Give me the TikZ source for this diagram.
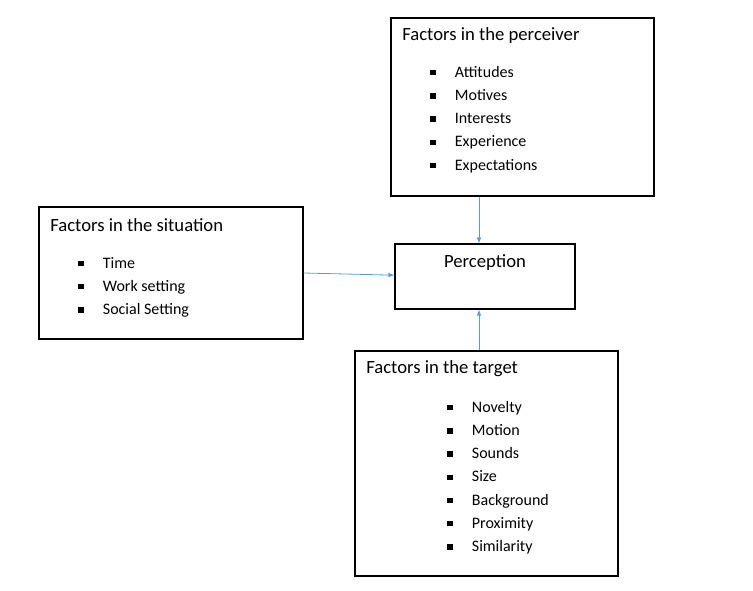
\documentclass[tikz,border=0pt]{standalone}
\usepackage{fontspec}
\setmainfont{Carlito}
\usetikzlibrary{positioning}
\tikzset{
  factorBox/.style = {draw, thick, inner sep = 0pt},
  headText/.style = {anchor = west, inner sep = 0pt, font = \fontsize{14}{16}\selectfont},
  listText/.style = {anchor = north west, inner sep = 0pt, align = left,
    font = \fontsize{12}{17.4}\selectfont},
  feedArrow/.style = {draw = arrowBlue, line width = 0.6pt, -latex}
}
\definecolor{arrowBlue}{HTML}{5B9BD5}
\newcommand{\bul}{\rule[1.5pt]{4pt}{4pt}\hspace{14.5pt}}
\begin{document}
\begin{tikzpicture}[x = 0.75pt, y = -0.75pt]
\useasboundingbox (0,0) rectangle (753,590);
% boxes
\node[factorBox, minimum width = 197.25pt, minimum height = 133.5pt] (perceiver) at (522.5,107) {};
\node[factorBox, minimum width = 198pt, minimum height = 99pt] (situation) at (171,273) {};
\node[factorBox, minimum width = 135pt, minimum height = 48.75pt] (perception) at (485,276.5) {};
\node[factorBox, minimum width = 197.25pt, minimum height = 168.75pt] (target) at (486.5,463.5) {};
% texts
\node[headText] (perceiverHead) at (402,36) {Factors in the perceiver};
\node[listText] (perceiverList) at (430,66) {\bul Attitudes\\ \bul Motives\\ \bul Interests\\ \bul Experience\\ \bul Expectations};
\node[headText] (situationHead) at (50,225) {Factors in the situation};
\node[listText] (situationList) at (78,257) {\bul Time\\ \bul Work setting\\ \bul Social Setting};
\node[headText, anchor = center] (perceptionHead) at (485,263) {Perception};
\node[headText] (targetHead) at (366,369) {Factors in the target};
\node[listText] (targetList) at (447,401) {\bul Novelty\\ \bul Motion\\ \bul Sounds\\ \bul Size\\ \bul Background\\ \bul Proximity\\ \bul Similarity};
% arrows
\draw[feedArrow] (perceiver.south -| perception.north) ++(-6,0) -- ([xshift = -4.5pt]perception.north);
\draw[feedArrow] (situation.east) -- ([yshift = 1pt]perception.west);
\draw[feedArrow] ([xshift = -4.5pt]target.north -| perception.south) -- ([xshift = -4.5pt]perception.south);
\end{tikzpicture}
\end{document}
